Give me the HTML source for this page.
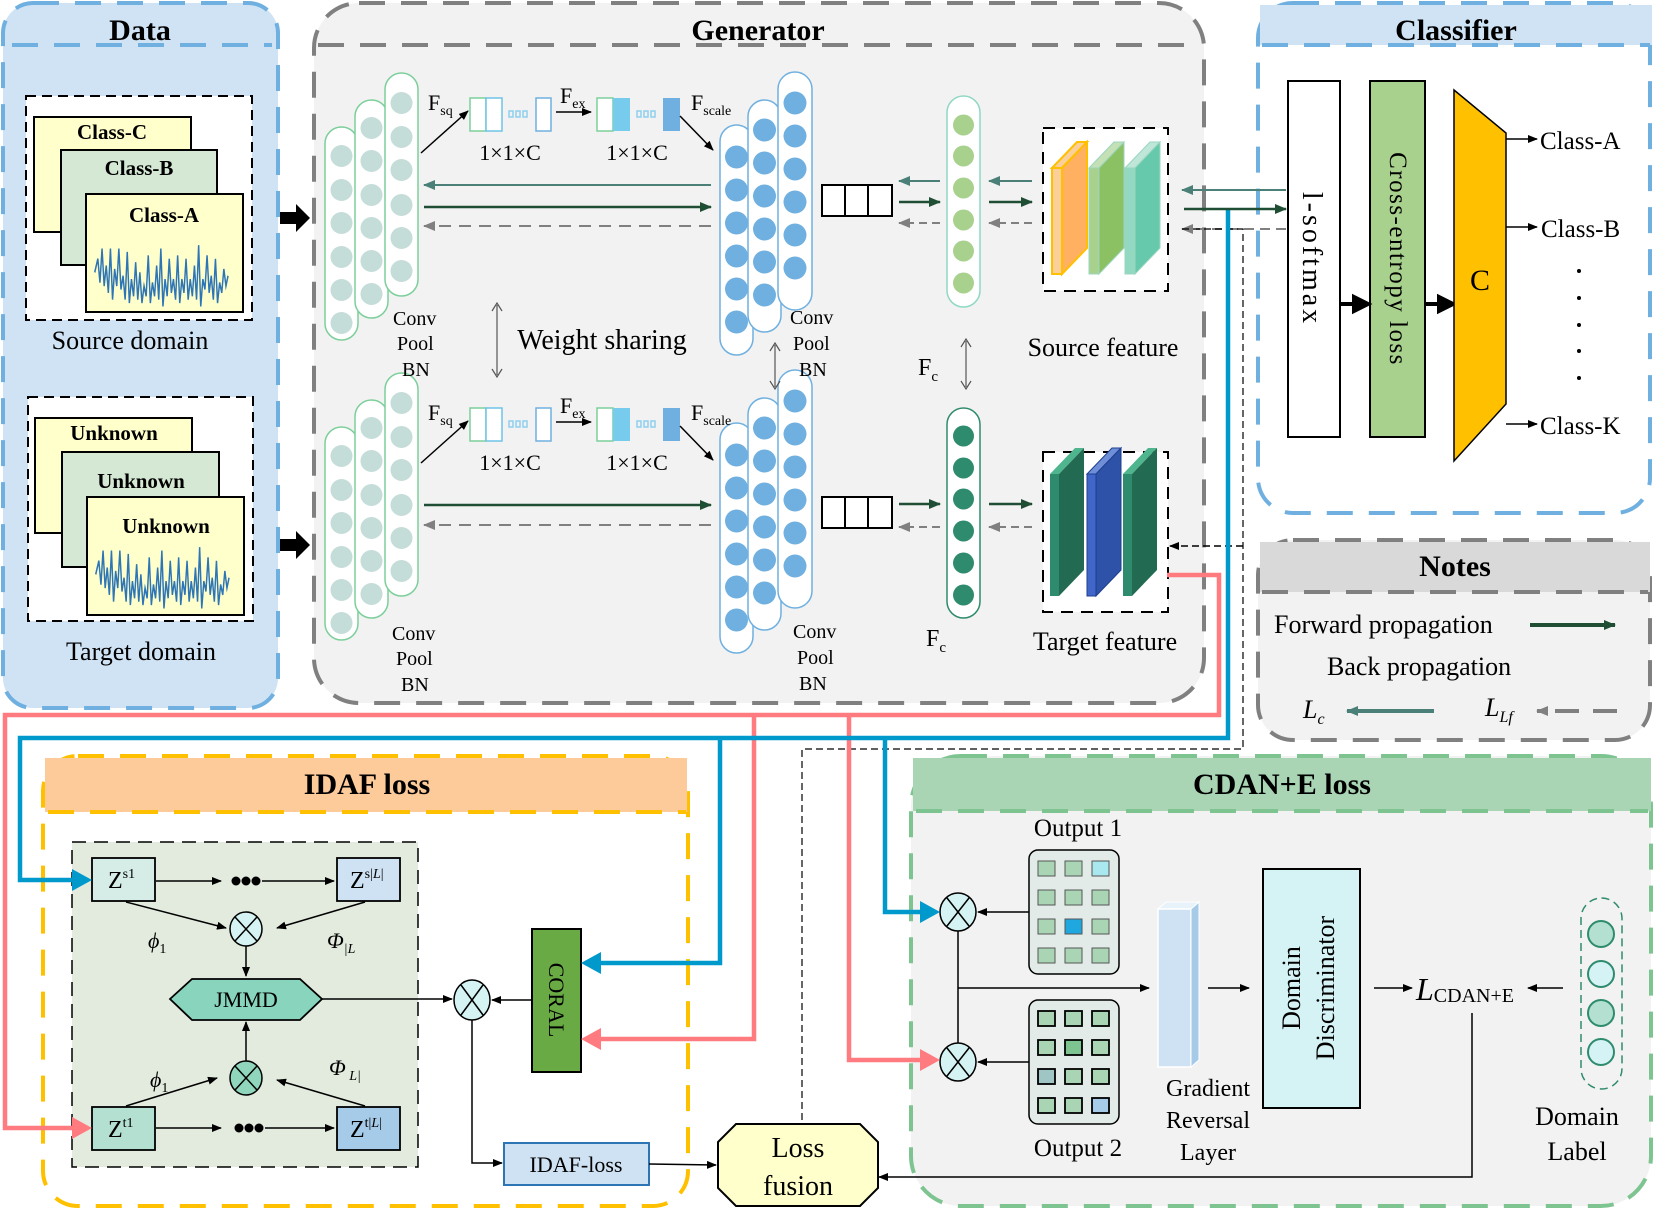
<!DOCTYPE html>
<html><head><meta charset="utf-8"><style>
html,body{margin:0;padding:0;background:#fff}
svg{display:block}
text{font-family:"Liberation Serif",serif;fill:#000}
.b{font-weight:bold}
</style></head><body>
<svg width="1654" height="1209" viewBox="0 0 1654 1209" xmlns="http://www.w3.org/2000/svg">
<defs>
<marker id="ak" markerWidth="10" markerHeight="8" refX="9" refY="4" orient="auto" markerUnits="userSpaceOnUse"><path d="M0,0L10,4L0,8z" fill="#000"/></marker>
<marker id="ag" markerWidth="12" markerHeight="10" refX="11" refY="5" orient="auto" markerUnits="userSpaceOnUse"><path d="M0,0L12,5L0,10z" fill="#1f4e35"/></marker>
<marker id="at" markerWidth="12" markerHeight="10" refX="11" refY="5" orient="auto" markerUnits="userSpaceOnUse"><path d="M0,0L12,5L0,10z" fill="#4a8078"/></marker>
<marker id="ay" markerWidth="12" markerHeight="10" refX="11" refY="5" orient="auto" markerUnits="userSpaceOnUse"><path d="M0,0L12,5L0,10z" fill="#808080"/></marker>
</defs>

<!-- DATA panel -->
<rect x="3" y="3" width="275" height="705" rx="30" fill="#cfe3f5" stroke="#6fb0e0" stroke-width="4" stroke-dasharray="26,16"/>
<line x1="12" y1="45" x2="272" y2="45" stroke="#6fb0e0" stroke-width="4" stroke-dasharray="26,16"/>
<text x="140" y="40" font-size="30" text-anchor="middle" class="b">Data</text>
<rect x="26" y="96" width="226" height="224" fill="#fff" stroke="#000" stroke-width="2" stroke-dasharray="10,6"/>
<rect x="34" y="117" width="157" height="115" fill="#ffffcc" stroke="#000" stroke-width="2"/>
<text x="112" y="139" font-size="21" class="b" text-anchor="middle">Class-C</text>
<rect x="61" y="150" width="156" height="115" fill="#d5e8d4" stroke="#000" stroke-width="2"/>
<text x="139" y="175" font-size="21" class="b" text-anchor="middle">Class-B</text>
<rect x="86" y="194" width="157" height="118" fill="#ffffcc" stroke="#000" stroke-width="2"/>
<text x="164" y="222" font-size="21" class="b" text-anchor="middle">Class-A</text>
<g id="wvg"><path transform="matrix(1.05,0,0,1.7,-4,-190)" d="M94,272 l3,-8 2,14 2,-20 2,22 2,-12 2,16 2,-26 2,30 2,-18 2,10 2,-22 2,24 2,-8 2,14 2,-28 2,30 2,-14 2,10 2,-20 2,22 2,-16 2,18 2,-10 2,6 2,-24 2,28 2,-12 2,8 2,-18 2,20 2,-30 2,34 2,-16 2,10 2,-22 2,20 2,-8 2,12 2,-26 2,28 2,-14 2,8 2,-20 2,24 2,-12 2,10 2,-18 2,20 2,-32 2,36 2,-16 2,6 2,-20 2,22 2,-10 2,14 2,-24 2,26 2,-12 2,6 2,-14 2,10 2,-6" fill="none" stroke="#2e75b6" stroke-width="1.4"/></g>
<text x="130" y="349" font-size="26" text-anchor="middle">Source domain</text>

<rect x="28" y="397" width="225" height="224" fill="#fff" stroke="#000" stroke-width="2" stroke-dasharray="10,6"/>
<rect x="35" y="418" width="157" height="115" fill="#ffffcc" stroke="#000" stroke-width="2"/>
<text x="114" y="440" font-size="21" class="b" text-anchor="middle">Unknown</text>
<rect x="62" y="452" width="157" height="115" fill="#d5e8d4" stroke="#000" stroke-width="2"/>
<text x="141" y="488" font-size="21" class="b" text-anchor="middle">Unknown</text>
<rect x="87" y="497" width="157" height="118" fill="#ffffcc" stroke="#000" stroke-width="2"/>
<text x="166" y="533" font-size="21" class="b" text-anchor="middle">Unknown</text>
<use href="#wvg" transform="translate(1,302)"/>
<text x="141" y="660" font-size="26" text-anchor="middle">Target domain</text>

<path d="M280,212h16v-8l14,14l-14,14v-8h-16z" fill="#000"/>
<path d="M280,539h16v-8l14,14l-14,14v-8h-16z" fill="#000"/>

<!-- GENERATOR -->
<rect x="314" y="3" width="890" height="700" rx="45" fill="#f2f2f2" stroke="#808080" stroke-width="4" stroke-dasharray="26,16"/>
<line x1="318" y1="45" x2="1200" y2="45" stroke="#808080" stroke-width="4" stroke-dasharray="26,16"/>
<text x="758" y="40" font-size="30" class="b" text-anchor="middle">Generator</text>

<g id="lcols">
<rect x="325" y="127" width="33" height="213" rx="16.5" fill="#fff" stroke="#7ccf9a" stroke-width="1.5"/>
<g fill="#c5ddd8"><circle cx="341.5" cy="156" r="11"/><circle cx="341.5" cy="190" r="11"/><circle cx="341.5" cy="223" r="11"/><circle cx="341.5" cy="257" r="11"/><circle cx="341.5" cy="290" r="11"/><circle cx="341.5" cy="323" r="11"/></g>
<rect x="355" y="100" width="33" height="218" rx="16.5" fill="#fff" stroke="#7ccf9a" stroke-width="1.5"/>
<g fill="#c5ddd8"><circle cx="371.5" cy="128" r="11"/><circle cx="371.5" cy="161" r="11"/><circle cx="371.5" cy="195" r="11"/><circle cx="371.5" cy="228" r="11"/><circle cx="371.5" cy="261" r="11"/><circle cx="371.5" cy="294" r="11"/></g>
<rect x="385" y="73" width="33" height="223" rx="16.5" fill="#fff" stroke="#7ccf9a" stroke-width="1.5"/>
<g fill="#c5ddd8"><circle cx="401.5" cy="103" r="11"/><circle cx="401.5" cy="137" r="11"/><circle cx="401.5" cy="170" r="11"/><circle cx="401.5" cy="205" r="11"/><circle cx="401.5" cy="238" r="11"/><circle cx="401.5" cy="271" r="11"/></g>
</g>
<use href="#lcols" transform="translate(0,300)"/>

<g id="rcols">
<rect x="720" y="125" width="33" height="230" rx="16.5" fill="#fff" stroke="#6fb0e0" stroke-width="1.5"/>
<g fill="#6fb0e0"><circle cx="736.5" cy="157" r="11.5"/><circle cx="736.5" cy="190" r="11.5"/><circle cx="736.5" cy="223" r="11.5"/><circle cx="736.5" cy="256" r="11.5"/><circle cx="736.5" cy="289" r="11.5"/><circle cx="736.5" cy="322" r="11.5"/></g>
<rect x="748" y="100" width="33" height="232" rx="16.5" fill="#fff" stroke="#6fb0e0" stroke-width="1.5"/>
<g fill="#6fb0e0"><circle cx="764.5" cy="130" r="11.5"/><circle cx="764.5" cy="163" r="11.5"/><circle cx="764.5" cy="196" r="11.5"/><circle cx="764.5" cy="229" r="11.5"/><circle cx="764.5" cy="262" r="11.5"/><circle cx="764.5" cy="295" r="11.5"/></g>
<rect x="778" y="72" width="34" height="238" rx="17" fill="#fff" stroke="#6fb0e0" stroke-width="1.5"/>
<g fill="#6fb0e0"><circle cx="795" cy="103" r="11.5"/><circle cx="795" cy="136" r="11.5"/><circle cx="795" cy="169" r="11.5"/><circle cx="795" cy="202" r="11.5"/><circle cx="795" cy="235" r="11.5"/><circle cx="795" cy="268" r="11.5"/></g>
</g>
<use href="#rcols" transform="translate(0,298)"/>

<g id="se">
<line x1="421" y1="153" x2="468" y2="111" stroke="#000" stroke-width="1.5" marker-end="url(#ak)"/>
<text x="428" y="110" font-size="22">F<tspan font-size="14" dy="5">sq</tspan></text>
<rect x="470" y="98" width="16" height="33" fill="#fff" stroke="#7ccf9a" stroke-width="1.5"/>
<rect x="486" y="98" width="16" height="33" fill="#fff" stroke="#6fc3e8" stroke-width="1.5"/>
<g fill="none" stroke="#8fd0ee" stroke-width="1.5"><rect x="509" y="111" width="4" height="6"/><rect x="516" y="111" width="4" height="6"/><rect x="523" y="111" width="4" height="6"/></g>
<rect x="536" y="98" width="15" height="33" fill="#fff" stroke="#6fb0e0" stroke-width="1.5"/>
<line x1="556" y1="112" x2="591" y2="112" stroke="#000" stroke-width="1.5" marker-end="url(#ak)"/>
<text x="560" y="103" font-size="22">F<tspan font-size="14" dy="5">ex</tspan></text>
<rect x="597" y="98" width="16" height="33" fill="#fff" stroke="#7ccf9a" stroke-width="1.5"/>
<rect x="613" y="98" width="17" height="33" fill="#77cbec"/>
<g fill="none" stroke="#8fd0ee" stroke-width="1.5"><rect x="637" y="111" width="4" height="6"/><rect x="644" y="111" width="4" height="6"/><rect x="651" y="111" width="4" height="6"/></g>
<rect x="663" y="98" width="17" height="33" fill="#6fb0e0"/>
<line x1="680" y1="116" x2="713" y2="150" stroke="#000" stroke-width="1.5" marker-end="url(#ak)"/>
<text x="691" y="110" font-size="22">F<tspan font-size="14" dy="5">scale</tspan></text>
<text x="510" y="160" font-size="22" text-anchor="middle">1×1×C</text>
<text x="637" y="160" font-size="22" text-anchor="middle">1×1×C</text>
</g>
<use href="#se" transform="translate(0,310)"/>

<line x1="711" y1="185" x2="424" y2="185" stroke="#4a8078" stroke-width="2" marker-end="url(#at)"/>
<line x1="424" y1="207" x2="711" y2="207" stroke="#1f4e35" stroke-width="2.5" marker-end="url(#ag)"/>
<line x1="711" y1="226" x2="424" y2="226" stroke="#808080" stroke-width="2" stroke-dasharray="12,8" marker-end="url(#ay)"/>
<line x1="424" y1="505" x2="711" y2="505" stroke="#1f4e35" stroke-width="2.5" marker-end="url(#ag)"/>
<line x1="711" y1="525" x2="424" y2="525" stroke="#808080" stroke-width="2" stroke-dasharray="12,8" marker-end="url(#ay)"/>

<text x="393" y="325" font-size="20">Conv</text><text x="397" y="350" font-size="20">Pool</text><text x="402" y="376" font-size="20">BN</text>
<text x="392" y="640" font-size="20">Conv</text><text x="396" y="665" font-size="20">Pool</text><text x="401" y="691" font-size="20">BN</text>
<text x="790" y="324" font-size="20">Conv</text><text x="793" y="350" font-size="20">Pool</text><text x="799" y="376" font-size="20">BN</text>
<text x="793" y="638" font-size="20">Conv</text><text x="797" y="664" font-size="20">Pool</text><text x="799" y="690" font-size="20">BN</text>

<line x1="497" y1="305" x2="497" y2="375" stroke="#555" stroke-width="1.2"/>
<path d="M492,311L497,303L502,311M492,369L497,377L502,369" fill="none" stroke="#555" stroke-width="1.2"/>
<text x="602" y="349" font-size="28" text-anchor="middle">Weight sharing</text>
<line x1="775" y1="345" x2="775" y2="387" stroke="#555" stroke-width="1.2"/>
<path d="M770,351L775,343L780,351M770,381L775,389L780,381" fill="none" stroke="#555" stroke-width="1.2"/>

<rect x="822" y="185" width="70" height="31" fill="#fff" stroke="#000" stroke-width="2"/>
<line x1="845" y1="185" x2="845" y2="216" stroke="#000" stroke-width="2"/><line x1="868" y1="185" x2="868" y2="216" stroke="#000" stroke-width="2"/>
<rect x="822" y="497" width="70" height="31" fill="#fff" stroke="#000" stroke-width="2"/>
<line x1="845" y1="497" x2="845" y2="528" stroke="#000" stroke-width="2"/><line x1="868" y1="497" x2="868" y2="528" stroke="#000" stroke-width="2"/>

<line x1="940" y1="181" x2="899" y2="181" stroke="#4a8078" stroke-width="2" marker-end="url(#at)"/>
<line x1="899" y1="202" x2="940" y2="202" stroke="#1f4e35" stroke-width="2.5" marker-end="url(#ag)"/>
<line x1="940" y1="223" x2="899" y2="223" stroke="#808080" stroke-width="2" stroke-dasharray="8,5" marker-end="url(#ay)"/>
<line x1="1032" y1="181" x2="989" y2="181" stroke="#4a8078" stroke-width="2" marker-end="url(#at)"/>
<line x1="989" y1="202" x2="1032" y2="202" stroke="#1f4e35" stroke-width="2.5" marker-end="url(#ag)"/>
<line x1="1032" y1="223" x2="989" y2="223" stroke="#808080" stroke-width="2" stroke-dasharray="8,5" marker-end="url(#ay)"/>
<line x1="899" y1="504" x2="940" y2="504" stroke="#1f4e35" stroke-width="2.5" marker-end="url(#ag)"/>
<line x1="940" y1="527" x2="899" y2="527" stroke="#808080" stroke-width="2" stroke-dasharray="8,5" marker-end="url(#ay)"/>
<line x1="989" y1="504" x2="1032" y2="504" stroke="#1f4e35" stroke-width="2.5" marker-end="url(#ag)"/>
<line x1="1032" y1="527" x2="989" y2="527" stroke="#808080" stroke-width="2" stroke-dasharray="8,5" marker-end="url(#ay)"/>

<rect x="947" y="96" width="33" height="211" rx="16.5" fill="#fff" stroke="#8fd8c4" stroke-width="1.5"/>
<g fill="#a9d18e"><circle cx="963.5" cy="125" r="10.5"/><circle cx="963.5" cy="156" r="10.5"/><circle cx="963.5" cy="188" r="10.5"/><circle cx="963.5" cy="220" r="10.5"/><circle cx="963.5" cy="251" r="10.5"/><circle cx="963.5" cy="283" r="10.5"/></g>
<rect x="947" y="408" width="33" height="210" rx="16.5" fill="#fff" stroke="#2e8b6e" stroke-width="1.5"/>
<g fill="#2e8b6e"><circle cx="963.5" cy="436" r="10.5"/><circle cx="963.5" cy="468" r="10.5"/><circle cx="963.5" cy="499" r="10.5"/><circle cx="963.5" cy="531" r="10.5"/><circle cx="963.5" cy="563" r="10.5"/><circle cx="963.5" cy="595" r="10.5"/></g>
<text x="918" y="375" font-size="24">F<tspan font-size="15" dy="6">c</tspan></text>
<line x1="966" y1="341" x2="966" y2="387" stroke="#555" stroke-width="1.2"/>
<path d="M961,347L966,339L971,347M961,381L966,389L971,381" fill="none" stroke="#555" stroke-width="1.2"/>
<text x="926" y="646" font-size="24">F<tspan font-size="15" dy="6">c</tspan></text>

<rect x="1043" y="128" width="125" height="163" fill="#fff" stroke="#000" stroke-width="2" stroke-dasharray="12,8"/>
<path d="M1052,168L1077,142L1087,142L1062,168z" fill="#fbcf9a" stroke="#ffc000" stroke-width="2"/>
<rect x="1052" y="168" width="10" height="106" fill="#fbcf9a" stroke="#ffc000" stroke-width="2"/>
<path d="M1062,168L1087,142L1087,248L1062,274z" fill="#ffb061" stroke="#ffc000" stroke-width="2"/>
<path d="M1089,168L1114,142L1124,142L1099,168z" fill="#c5e0b4" stroke="#9ad6bf"/>
<rect x="1089" y="168" width="10" height="106" fill="#a9d18e" stroke="#9ad6bf"/>
<path d="M1099,168L1124,142L1124,248L1099,274z" fill="#8bc063" stroke="#9ad6bf"/>
<path d="M1125,168L1150,142L1160,142L1135,168z" fill="#bfe6d8" stroke="#9ad6bf"/>
<rect x="1125" y="168" width="10" height="106" fill="#93d8c0" stroke="#9ad6bf"/>
<path d="M1135,168L1160,142L1160,248L1135,274z" fill="#66c9ac" stroke="#9ad6bf"/>
<text x="1103" y="356" font-size="26" text-anchor="middle">Source feature</text>

<rect x="1043" y="452" width="125" height="160" fill="#fff" stroke="#000" stroke-width="2" stroke-dasharray="12,8"/>
<path d="M1050,474L1075,448L1084,448L1059,474z" fill="#4fb58f"/>
<rect x="1050" y="474" width="9" height="122" fill="#2e8b6e"/>
<path d="M1059,474L1084,448L1084,570L1059,596z" fill="#236a52"/>
<path d="M1087,474L1112,448L1121,448L1096,474z" fill="#6e8fd8" stroke="#1f3f8f"/>
<rect x="1087" y="474" width="9" height="122" fill="#3f66c8" stroke="#1f3f8f"/>
<path d="M1096,474L1121,448L1121,570L1096,596z" fill="#2e52a8" stroke="#1f3f8f"/>
<path d="M1123,474L1148,448L1157,448L1132,474z" fill="#4fb58f"/>
<rect x="1123" y="474" width="9" height="122" fill="#2e8b6e"/>
<path d="M1132,474L1157,448L1157,570L1132,596z" fill="#236a52"/>
<text x="1105" y="650" font-size="26" text-anchor="middle">Target feature</text>

<!-- CLASSIFIER -->
<rect x="1258" y="3" width="392" height="510" rx="35" fill="#fff" stroke="#6fb0e0" stroke-width="4" stroke-dasharray="26,16"/>
<rect x="1260" y="5" width="392" height="40" fill="#cfe3f5"/>
<line x1="1262" y1="45" x2="1650" y2="45" stroke="#6fb0e0" stroke-width="4" stroke-dasharray="26,16"/>
<text x="1456" y="40" font-size="30" class="b" text-anchor="middle">Classifier</text>
<rect x="1288" y="81" width="52" height="356" fill="#fff" stroke="#000" stroke-width="2"/>
<text transform="translate(1303,259) rotate(90)" font-size="28" text-anchor="middle" letter-spacing="3">l-softmax</text>
<rect x="1370" y="81" width="55" height="356" fill="#a9d18e" stroke="#000" stroke-width="2"/>
<text transform="translate(1390,259) rotate(90)" font-size="25" text-anchor="middle" letter-spacing="1.5">Cross-entropy loss</text>
<path d="M1340,304h14v-7l14,7l-14,7v-7" fill="#000" stroke="#000" stroke-width="4"/>
<path d="M1425,304h14v-7l14,7l-14,7v-7" fill="#000" stroke="#000" stroke-width="4"/>
<path d="M1454,90L1506,133L1506,404L1454,461z" fill="#ffc000" stroke="#000" stroke-width="1.5"/>
<text x="1480" y="290" font-size="30" text-anchor="middle">C</text>
<line x1="1506" y1="139" x2="1537" y2="139" stroke="#000" stroke-width="1.5" marker-end="url(#ak)"/>
<line x1="1506" y1="227" x2="1537" y2="227" stroke="#000" stroke-width="1.5" marker-end="url(#ak)"/>
<line x1="1506" y1="424" x2="1537" y2="424" stroke="#000" stroke-width="1.5" marker-end="url(#ak)"/>
<text x="1540" y="149" font-size="25">Class-A</text>
<text x="1541" y="237" font-size="25">Class-B</text>
<text x="1540" y="434" font-size="25">Class-K</text>
<g fill="#000"><circle cx="1579" cy="271" r="2"/><circle cx="1579" cy="298" r="2"/><circle cx="1579" cy="325" r="2"/><circle cx="1579" cy="351" r="2"/><circle cx="1579" cy="378" r="2"/></g>

<!-- NOTES -->
<rect x="1258" y="540" width="392" height="200" rx="35" fill="#f2f2f2" stroke="#808080" stroke-width="4" stroke-dasharray="26,16"/>
<rect x="1260" y="542" width="390" height="50" fill="#d9d9d9"/>
<line x1="1262" y1="592" x2="1648" y2="592" stroke="#808080" stroke-width="4" stroke-dasharray="26,16"/>
<text x="1455" y="576" font-size="30" class="b" text-anchor="middle">Notes</text>
<text x="1274" y="633" font-size="26">Forward propagation</text>
<line x1="1530" y1="625" x2="1615" y2="625" stroke="#1f4e35" stroke-width="4" marker-end="url(#ag)"/>
<text x="1327" y="675" font-size="26">Back  propagation</text>
<text x="1303" y="718" font-size="26" font-style="italic">L<tspan font-size="16" dy="6">c</tspan></text>
<line x1="1434" y1="711" x2="1347" y2="711" stroke="#4a8078" stroke-width="4" marker-end="url(#at)"/>
<text x="1485" y="716" font-size="26" font-style="italic">L<tspan font-size="16" dy="6">Lf</tspan></text>
<line x1="1617" y1="711" x2="1537" y2="711" stroke="#808080" stroke-width="4" stroke-dasharray="24,14" marker-end="url(#ay)"/>

<line x1="1286" y1="190" x2="1182" y2="190" stroke="#4a8078" stroke-width="2" marker-end="url(#at)"/>
<line x1="1286" y1="229" x2="1182" y2="229" stroke="#808080" stroke-width="2" stroke-dasharray="10,6" marker-end="url(#ay)"/>

<!-- IDAF panel -->
<rect x="43" y="756" width="645" height="450" rx="35" fill="#fff" stroke="#ffc000" stroke-width="4" stroke-dasharray="26,16"/>
<rect x="45" y="758" width="642" height="54" fill="#fdca9a"/>
<line x1="48" y1="812" x2="686" y2="812" stroke="#ffc000" stroke-width="4" stroke-dasharray="26,16"/>
<text x="367" y="794" font-size="30" class="b" text-anchor="middle">IDAF  loss</text>
<rect x="72" y="842" width="346" height="325" fill="#e2ebdd" stroke="#000" stroke-width="1.5" stroke-dasharray="14,8"/>
<rect x="92" y="858" width="63" height="43" fill="#d5ede6" stroke="#000" stroke-width="1.8"/>
<text x="108" y="888" font-size="24">Z<tspan font-size="14" dy="-10">s1</tspan></text>
<rect x="337" y="858" width="63" height="43" fill="#cfe2f3" stroke="#000" stroke-width="1.8"/>
<text x="350" y="888" font-size="24">Z<tspan font-size="14" dy="-10">s|<tspan font-style="italic">L</tspan>|</tspan></text>
<line x1="156" y1="881" x2="221" y2="881" stroke="#000" stroke-width="1.5" marker-end="url(#ak)"/>
<g fill="#000"><circle cx="236" cy="881" r="4.5"/><circle cx="246" cy="881" r="4.5"/><circle cx="256" cy="881" r="4.5"/></g>
<line x1="262" y1="881" x2="334" y2="881" stroke="#000" stroke-width="1.5" marker-end="url(#ak)"/>
<rect x="92" y="1107" width="63" height="43" fill="#b3e0d0" stroke="#000" stroke-width="1.8"/>
<text x="108" y="1137" font-size="24">Z<tspan font-size="14" dy="-10">t1</tspan></text>
<rect x="337" y="1107" width="63" height="43" fill="#a6cbe8" stroke="#000" stroke-width="1.8"/>
<text x="350" y="1137" font-size="24">Z<tspan font-size="14" dy="-10">t|<tspan font-style="italic">L</tspan>|</tspan></text>
<line x1="156" y1="1128" x2="221" y2="1128" stroke="#000" stroke-width="1.5" marker-end="url(#ak)"/>
<g fill="#000"><circle cx="239" cy="1128" r="4.5"/><circle cx="249" cy="1128" r="4.5"/><circle cx="259" cy="1128" r="4.5"/></g>
<line x1="265" y1="1128" x2="334" y2="1128" stroke="#000" stroke-width="1.5" marker-end="url(#ak)"/>

<g stroke="#000" stroke-width="1.5">
<ellipse cx="246" cy="929" rx="16" ry="17" fill="#d5f3f3"/><line x1="235" y1="917" x2="257" y2="941"/><line x1="257" y1="917" x2="235" y2="941"/>
<ellipse cx="246" cy="1078" rx="16" ry="17" fill="#8fd6bd"/><line x1="235" y1="1066" x2="257" y2="1090"/><line x1="257" y1="1066" x2="235" y2="1090"/>
<ellipse cx="472" cy="1000" rx="18" ry="20" fill="#d5f3f3"/><line x1="461" y1="985" x2="483" y2="1015"/><line x1="483" y1="985" x2="461" y2="1015"/>
</g>
<line x1="126" y1="902" x2="226" y2="928" stroke="#000" stroke-width="1.5" marker-end="url(#ak)"/>
<line x1="365" y1="902" x2="277" y2="928" stroke="#000" stroke-width="1.5" marker-end="url(#ak)"/>
<line x1="246" y1="946" x2="246" y2="976" stroke="#000" stroke-width="1.5" marker-end="url(#ak)"/>
<line x1="126" y1="1106" x2="217" y2="1078" stroke="#000" stroke-width="1.5" marker-end="url(#ak)"/>
<line x1="365" y1="1106" x2="277" y2="1080" stroke="#000" stroke-width="1.5" marker-end="url(#ak)"/>
<line x1="246" y1="1061" x2="246" y2="1022" stroke="#000" stroke-width="1.5" marker-end="url(#ak)"/>
<text x="148" y="948" font-size="22" font-style="italic">ϕ<tspan font-size="14" font-style="normal" dy="5">1</tspan></text>
<text x="327" y="948" font-size="22" font-style="italic">Φ<tspan font-size="14" dy="5">|L</tspan></text>
<text x="150" y="1087" font-size="22" font-style="italic">ϕ<tspan font-size="14" font-style="normal" dy="5">1</tspan></text>
<text x="329" y="1075" font-size="22" font-style="italic">Φ<tspan font-size="14" dy="5"> L|</tspan></text>
<path d="M170,999L192,979L300,979L322,999L300,1020L192,1020z" fill="#88d4bc" stroke="#000" stroke-width="1.8"/>
<text x="246" y="1007" font-size="22" text-anchor="middle">JMMD</text>
<line x1="322" y1="999" x2="452" y2="999" stroke="#000" stroke-width="1.5" marker-end="url(#ak)"/>
<rect x="532" y="929" width="49" height="143" fill="#6aaa45" stroke="#000" stroke-width="2"/>
<text transform="translate(549,1000) rotate(90)" font-size="22" text-anchor="middle">CORAL</text>
<line x1="532" y1="1000" x2="492" y2="1000" stroke="#000" stroke-width="1.5" marker-end="url(#ak)"/>
<polyline points="472,1020 472,1163 502,1163" fill="none" stroke="#000" stroke-width="1.5" marker-end="url(#ak)"/>
<rect x="504" y="1143" width="145" height="42" fill="#cfe2f3" stroke="#2e75b6" stroke-width="2"/>
<text x="576" y="1172" font-size="22" text-anchor="middle">IDAF-loss</text>
<line x1="649" y1="1164" x2="716" y2="1165" stroke="#000" stroke-width="1.5" marker-end="url(#ak)"/>

<!-- CDAN panel -->
<rect x="911" y="756" width="740" height="450" rx="50" fill="#f2f2f2" stroke="#7ec491" stroke-width="4" stroke-dasharray="26,16"/>
<rect x="913" y="758" width="738" height="53" fill="#a9d5b5"/>
<line x1="916" y1="811" x2="1648" y2="811" stroke="#7ec491" stroke-width="4" stroke-dasharray="26,16"/>
<text x="1282" y="794" font-size="30" class="b" text-anchor="middle">CDAN+E loss</text>
<text x="1078" y="836" font-size="25" text-anchor="middle">Output 1</text>
<rect x="1029" y="850" width="90" height="124" rx="9" fill="#e2ebe8" stroke="#000" stroke-width="1.5"/>
<g stroke="#555" stroke-width="1">
<rect x="1038" y="861" width="17" height="15" fill="#a9d5b5"/><rect x="1065" y="861" width="17" height="15" fill="#a9d5b5"/><rect x="1092" y="861" width="17" height="15" fill="#a8e8ee"/>
<rect x="1038" y="890" width="17" height="15" fill="#a9d5b5"/><rect x="1065" y="890" width="17" height="15" fill="#a9d5b5"/><rect x="1092" y="890" width="17" height="15" fill="#a9d5b5"/>
<rect x="1038" y="919" width="17" height="15" fill="#a9d5b5"/><rect x="1065" y="919" width="17" height="15" fill="#1fa8e0"/><rect x="1092" y="919" width="17" height="15" fill="#a9d5b5"/>
<rect x="1038" y="948" width="17" height="15" fill="#a9d5b5"/><rect x="1065" y="948" width="17" height="15" fill="#a9d5b5"/><rect x="1092" y="948" width="17" height="15" fill="#a9d5b5"/>
</g>
<rect x="1029" y="1000" width="90" height="124" rx="9" fill="#e2ebe8" stroke="#000" stroke-width="1.5"/>
<g stroke="#000" stroke-width="1.8">
<rect x="1038" y="1011" width="17" height="15" fill="#a9d5b5"/><rect x="1065" y="1011" width="17" height="15" fill="#a9d5b5"/><rect x="1092" y="1011" width="17" height="15" fill="#a9d5b5"/>
<rect x="1038" y="1040" width="17" height="15" fill="#a9d5b5"/><rect x="1065" y="1040" width="17" height="15" fill="#7ec491"/><rect x="1092" y="1040" width="17" height="15" fill="#a9d5b5"/>
<rect x="1038" y="1069" width="17" height="15" fill="#9fc5c5"/><rect x="1065" y="1069" width="17" height="15" fill="#a9d5b5"/><rect x="1092" y="1069" width="17" height="15" fill="#a9d5b5"/>
<rect x="1038" y="1098" width="17" height="15" fill="#a9d5b5"/><rect x="1065" y="1098" width="17" height="15" fill="#a9d5b5"/><rect x="1092" y="1098" width="17" height="15" fill="#a6cbe8"/>
</g>
<text x="1078" y="1156" font-size="25" text-anchor="middle">Output 2</text>
<g stroke="#000" stroke-width="1.5">
<ellipse cx="958" cy="912" rx="18" ry="19" fill="#d5f3f3"/><line x1="947" y1="898" x2="969" y2="926"/><line x1="969" y1="898" x2="947" y2="926"/>
<ellipse cx="958" cy="1062" rx="18" ry="19" fill="#d5f3f3"/><line x1="947" y1="1048" x2="969" y2="1076"/><line x1="969" y1="1048" x2="947" y2="1076"/>
</g>
<line x1="1029" y1="912" x2="978" y2="912" stroke="#000" stroke-width="1.5" marker-end="url(#ak)"/>
<line x1="1029" y1="1062" x2="978" y2="1062" stroke="#000" stroke-width="1.5" marker-end="url(#ak)"/>
<line x1="958" y1="931" x2="958" y2="1043" stroke="#000" stroke-width="1.5"/>
<line x1="958" y1="988" x2="1149" y2="988" stroke="#000" stroke-width="1.5" marker-end="url(#ak)"/>
<path d="M1158,909L1166,902L1199,902L1191,909z" fill="#e8f2fb" stroke="#fff"/>
<rect x="1158" y="909" width="33" height="158" fill="#cfe2f3" stroke="#fff" stroke-width="1.5"/>
<path d="M1191,909L1199,902L1199,1060L1191,1067z" fill="#a6cbe8" stroke="#fff"/>
<line x1="1208" y1="988" x2="1249" y2="988" stroke="#000" stroke-width="1.5" marker-end="url(#ak)"/>
<text x="1208" y="1096" font-size="24" text-anchor="middle">Gradient</text>
<text x="1208" y="1128" font-size="24" text-anchor="middle">Reversal</text>
<text x="1208" y="1160" font-size="24" text-anchor="middle">Layer</text>
<rect x="1263" y="869" width="97" height="239" fill="#d5f3f5" stroke="#000" stroke-width="2"/>
<text transform="translate(1300,988) rotate(-90)" font-size="26" text-anchor="middle">Domain</text>
<text transform="translate(1334,988) rotate(-90)" font-size="26" text-anchor="middle">Discriminator</text>
<line x1="1374" y1="988" x2="1412" y2="988" stroke="#000" stroke-width="1.5" marker-end="url(#ak)"/>
<text x="1416" y="1000" font-size="32" font-style="italic">L<tspan font-size="20" font-style="normal" dy="2">CDAN+E</tspan></text>
<line x1="1563" y1="988" x2="1528" y2="988" stroke="#000" stroke-width="1.5" marker-end="url(#ak)"/>
<polyline points="1472,1013 1472,1177 879,1177" fill="none" stroke="#000" stroke-width="1.5" marker-end="url(#ak)"/>
<rect x="1581" y="898" width="41" height="191" rx="20.5" fill="none" stroke="#2e8b6e" stroke-width="1.5" stroke-dasharray="8,5"/>
<g stroke="#2e8b6e" stroke-width="2"><circle cx="1601" cy="934" r="13" fill="#b3e0d0"/><circle cx="1601" cy="974" r="13" fill="#d5f3f5"/><circle cx="1601" cy="1013" r="13" fill="#b3e0d0"/><circle cx="1601" cy="1052" r="13" fill="#d5f3f5"/></g>
<text x="1577" y="1125" font-size="26" text-anchor="middle">Domain</text>
<text x="1577" y="1160" font-size="26" text-anchor="middle">Label</text>

<path d="M736,1124L860,1124L878,1142L878,1188L860,1206L736,1206L718,1188L718,1142z" fill="#ffffcc" stroke="#000" stroke-width="2"/>
<text x="798" y="1157" font-size="28" text-anchor="middle">Loss</text>
<text x="798" y="1195" font-size="28" text-anchor="middle">fusion</text>

<polyline points="1182,229 1243,229 1243,749 802,749 802,1123" fill="none" stroke="#000" stroke-width="1.2" stroke-dasharray="7,4"/>
<line x1="1243" y1="546" x2="1170" y2="546" stroke="#000" stroke-width="1.5" stroke-dasharray="7,4" marker-end="url(#ak)"/>

<g fill="none" stroke="#ff7b80" stroke-width="4.5">
<polyline points="1167,575 1219,575 1219,715 5,715 5,1128 72,1128"/>
<polyline points="754,715 754,1039 600,1039"/>
<polyline points="849,715 849,1060 922,1060"/>
</g>
<path d="M92,1128l-20,-11v22z" fill="#ff7b80"/>
<path d="M581,1039l20,-11v22z" fill="#ff7b80"/>
<path d="M940,1060l-20,-11v22z" fill="#ff7b80"/>
<g fill="none" stroke="#0099cc" stroke-width="4.5">
<polyline points="1228,209 1228,738 20,738 20,880 72,880"/>
<polyline points="720,738 720,963 600,963"/>
<polyline points="885,738 885,912 922,912"/>
</g>
<line x1="1184" y1="209" x2="1286" y2="209" stroke="#1f4e35" stroke-width="2.5" marker-end="url(#ag)"/>
<path d="M92,880l-20,-11v22z" fill="#0099cc"/>
<path d="M581,963l20,-11v22z" fill="#0099cc"/>
<path d="M940,912l-20,-11v22z" fill="#0099cc"/>
</svg>
</body></html>
